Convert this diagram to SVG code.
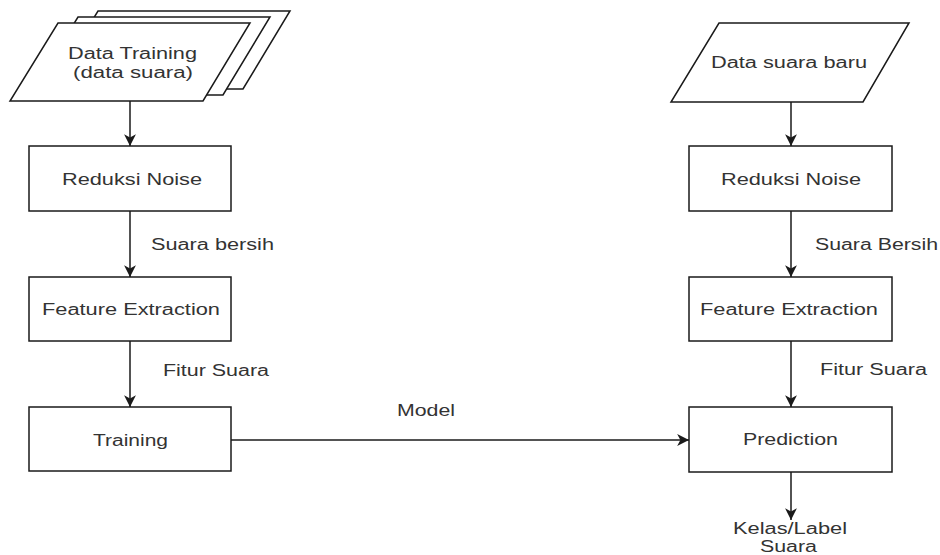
<svg xmlns="http://www.w3.org/2000/svg" width="940" height="555" viewBox="0 0 940 555">
<defs>
<style>
.shape{fill:#ffffff;stroke:#1a1a1a;stroke-width:1.5}
.edge{fill:none;stroke:#1a1a1a;stroke-width:1.5}
text{font-family:"Liberation Sans",Arial,sans-serif;font-size:16px;fill:#333333}
</style>
<marker id="arr" markerUnits="userSpaceOnUse" markerWidth="14" markerHeight="14" viewBox="-11 -6 13 12" refX="0" refY="0" orient="auto">
<path d="M-11,-5.5 L0,0 L-11,5.5 L-8,0 Z" fill="#1a1a1a"/>
</marker>
</defs>
<rect width="940" height="555" fill="#ffffff"/>

<g id="data-training">
<polygon class="shape" points="98,11 290,11 243,89 50,89"/>
<polygon class="shape" points="78,17 270,17 223,95 30,95"/>
<polygon class="shape" points="58,23 250,23 203,101 10,101"/>
<text x="68" y="59" textLength="129" lengthAdjust="spacingAndGlyphs">Data Training</text>
<text x="73" y="78" textLength="120" lengthAdjust="spacingAndGlyphs">(data suara)</text>
</g>

<g id="reduksi-left">
<rect class="shape" x="29" y="146" width="202" height="65"/>
<text x="62" y="185" textLength="140" lengthAdjust="spacingAndGlyphs">Reduksi Noise</text>
</g>

<g id="feature-left">
<rect class="shape" x="29" y="277" width="202" height="64"/>
<text x="42" y="315" textLength="178" lengthAdjust="spacingAndGlyphs">Feature Extraction</text>
</g>

<g id="training">
<rect class="shape" x="29" y="407" width="202" height="64"/>
<text x="93" y="446" textLength="75" lengthAdjust="spacingAndGlyphs">Training</text>
</g>

<g id="data-baru">
<polygon class="shape" points="719,23 909,23 863,102 671,102"/>
<text x="711" y="68" textLength="156" lengthAdjust="spacingAndGlyphs">Data suara baru</text>
</g>

<g id="reduksi-right">
<rect class="shape" x="689" y="146" width="203" height="65"/>
<text x="721" y="185" textLength="140" lengthAdjust="spacingAndGlyphs">Reduksi Noise</text>
</g>

<g id="feature-right">
<rect class="shape" x="689" y="277" width="203" height="64"/>
<text x="700" y="315" textLength="178" lengthAdjust="spacingAndGlyphs">Feature Extraction</text>
</g>

<g id="prediction">
<rect class="shape" x="689" y="407" width="203" height="65"/>
<text x="743" y="445" textLength="95" lengthAdjust="spacingAndGlyphs">Prediction</text>
</g>

<g id="connectors">
<line class="edge" x1="130" y1="101" x2="130" y2="146" marker-end="url(#arr)"/>
<line class="edge" x1="130" y1="211" x2="130" y2="277" marker-end="url(#arr)"/>
<line class="edge" x1="130" y1="341" x2="130" y2="407" marker-end="url(#arr)"/>
<line class="edge" x1="791" y1="102" x2="791" y2="146" marker-end="url(#arr)"/>
<line class="edge" x1="791" y1="211" x2="791" y2="277" marker-end="url(#arr)"/>
<line class="edge" x1="791" y1="341" x2="791" y2="407" marker-end="url(#arr)"/>
<line class="edge" x1="791" y1="472" x2="791" y2="520" marker-end="url(#arr)"/>
<line class="edge" x1="231" y1="440" x2="689" y2="440" marker-end="url(#arr)"/>
<text x="151" y="250" textLength="123" lengthAdjust="spacingAndGlyphs">Suara bersih</text>
<text x="163" y="376" textLength="106" lengthAdjust="spacingAndGlyphs">Fitur Suara</text>
<text x="815" y="250" textLength="123" lengthAdjust="spacingAndGlyphs">Suara Bersih</text>
<text x="820" y="375" textLength="107" lengthAdjust="spacingAndGlyphs">Fitur Suara</text>
<text x="397" y="416" textLength="58" lengthAdjust="spacingAndGlyphs">Model</text>
<text x="733" y="534" textLength="114" lengthAdjust="spacingAndGlyphs">Kelas/Label</text>
<text x="760" y="552" textLength="57" lengthAdjust="spacingAndGlyphs">Suara</text>
</g>
</svg>
